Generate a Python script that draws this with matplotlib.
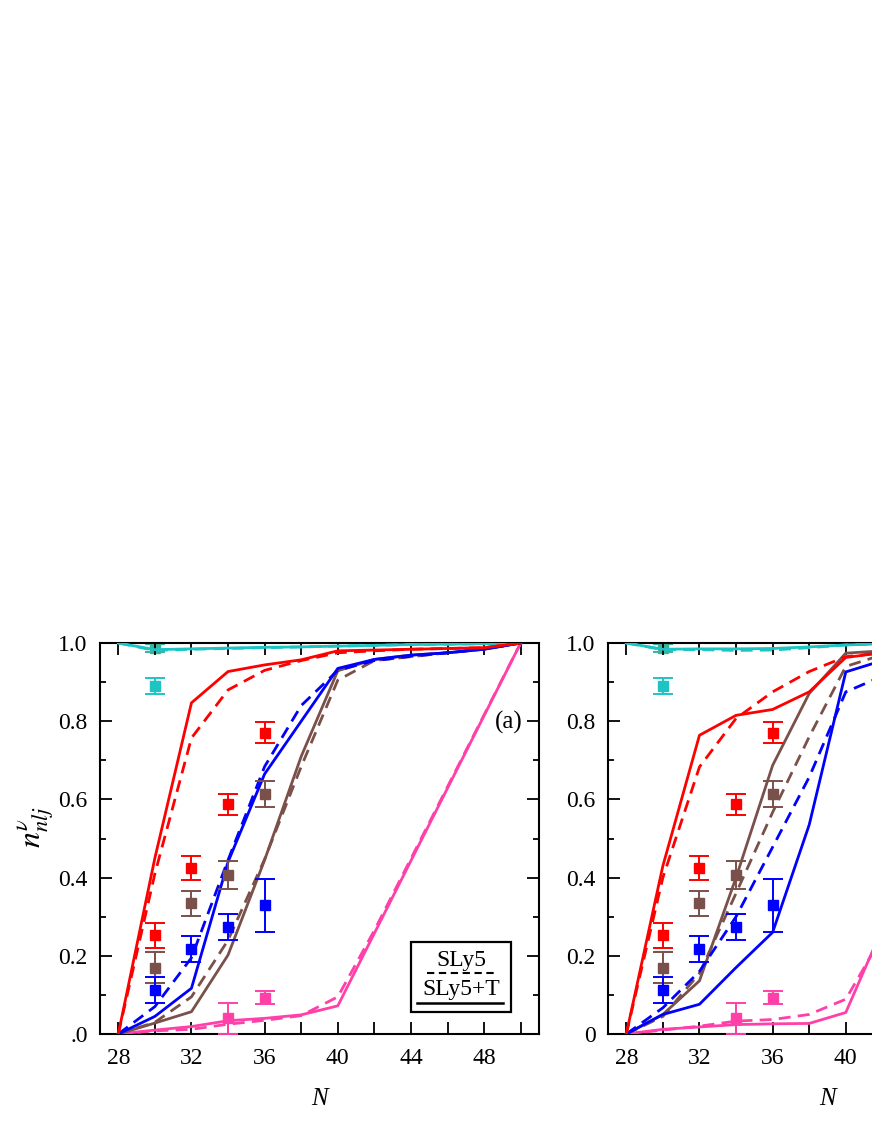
"""Neutron occupation probabilities n_nlj vs N: SLy5 (dashed) and SLy5+T (solid)."""

from __future__ import annotations

import matplotlib

matplotlib.use("Agg")
import matplotlib.pyplot as plt
from matplotlib.patches import Rectangle

# neutron numbers of the calculated curves
N_GRID = [28, 30, 32, 34, 36, 38, 40, 42, 44, 46, 48, 50]
N_PINK_A = [28, 30, 32, 34, 36, 38, 40, 50]
N_PINK_DASH_A = [28, 30, 32, 34, 36, 38, 40, 42, 50]
N_PINK_B = [28, 30, 32, 34, 36, 38, 40, 42, 50]

# panel (a)
cyan_solid_a = [1.0, 0.983, 0.985, 0.987, 0.989, 0.990, 0.992, 0.994, 0.996, 0.997, 0.998, 1.0]
cyan_dash_a = [1.0, 0.981, 0.984, 0.986, 0.988, 0.990, 0.992, 0.994, 0.996, 0.997, 0.998, 1.0]
red_solid_a = [0.0, 0.45, 0.847, 0.927, 0.944, 0.957, 0.98, 0.982, 0.984, 0.986, 0.988, 1.0]
red_dash_a = [0.0, 0.41, 0.757, 0.88, 0.93, 0.955, 0.975, 0.98, 0.984, 0.986, 0.988, 1.0]
blue_solid_a = [0.0, 0.045, 0.117, 0.44, 0.665, 0.80, 0.935, 0.958, 0.969, 0.975, 0.984, 1.0]
blue_dash_a = [0.0, 0.07, 0.195, 0.445, 0.684, 0.84, 0.93, 0.955, 0.966, 0.975, 0.985, 1.0]
brown_solid_a = [0.0, 0.028, 0.057, 0.202, 0.445, 0.71, 0.929, 0.958, 0.969, 0.975, 0.984, 1.0]
brown_dash_a = [0.0, 0.03, 0.095, 0.24, 0.447, 0.684, 0.905, 0.955, 0.965, 0.975, 0.985, 1.0]
pink_solid_a = [0.0, 0.01, 0.019, 0.034, 0.04, 0.049, 0.072, 1.0]
pink_dash_a = [0.0, 0.008, 0.012, 0.025, 0.035, 0.047, 0.095, 0.265, 1.0]

# panel (b)
cyan_solid_b = [1.0, 0.984, 0.985, 0.985, 0.986, 0.990, 0.995, 0.998, 1.0, 1.0, 1.0, 1.0]
cyan_dash_b = [1.0, 0.983, 0.983, 0.981, 0.982, 0.988, 0.995, 0.998, 1.0, 1.0, 1.0, 1.0]
red_solid_b = [0.0, 0.43, 0.764, 0.815, 0.83, 0.875, 0.963, 0.975, 0.98, 0.985, 0.99, 1.0]
red_dash_b = [0.0, 0.40, 0.683, 0.807, 0.875, 0.927, 0.965, 0.975, 0.98, 0.985, 0.99, 1.0]
blue_solid_b = [0.0, 0.05, 0.076, 0.17, 0.26, 0.535, 0.926, 0.955, 0.97, 0.98, 0.99, 1.0]
blue_dash_b = [0.0, 0.067, 0.16, 0.30, 0.478, 0.657, 0.875, 0.915, 0.94, 0.96, 0.98, 1.0]
brown_solid_b = [0.0, 0.05, 0.136, 0.40, 0.687, 0.871, 0.974, 0.98, 0.985, 0.99, 0.993, 1.0]
brown_dash_b = [0.0, 0.045, 0.155, 0.36, 0.567, 0.76, 0.94, 0.97, 0.98, 0.985, 0.99, 1.0]
pink_solid_b = [0.0, 0.012, 0.018, 0.024, 0.026, 0.027, 0.055, 0.27, 1.0]
pink_dash_b = [0.0, 0.01, 0.02, 0.033, 0.037, 0.05, 0.089, 0.25, 1.0]

# experimental values (same in both panels)
exp_cyan_n, exp_cyan, exp_cyan_err = [30], [0.89], [0.02]
exp_green_n, exp_green, exp_green_err = [30], [0.988], [0.01]
exp_red_n = [30, 32, 34, 36]
exp_red = [0.253, 0.425, 0.588, 0.771]
exp_red_err = [0.032, 0.03, 0.027, 0.027]
exp_brown_n = [30, 32, 34, 36]
exp_brown = [0.17, 0.334, 0.407, 0.614]
exp_brown_err = [0.04, 0.033, 0.035, 0.033]
exp_blue_n = [30, 32, 34, 36]
exp_blue = [0.112, 0.217, 0.274, 0.329]
exp_blue_err = [0.033, 0.034, 0.033, 0.068]
exp_pink_n = [34, 36]
exp_pink = [0.04, 0.093]
exp_pink_err = [0.04, 0.017]

X_TICKS = [28, 30, 32, 34, 36, 38, 40, 42, 44, 46, 48, 50]
X_TICK_LABELS_A = ["28", "", "32", "", "36", "", "40", "", "44", "", "48", ""]
X_TICKS_B = [28, 30, 32, 34, 36, 38, 40]
X_TICK_LABELS_B = ["28", "", "32", "", "36", "", "40"]
Y_TICKS = [0.0, 0.2, 0.4, 0.6, 0.8, 1.0]
Y_MINOR = [0.1, 0.3, 0.5, 0.7, 0.9]

CYAN = "#1ec4c4"
RED = "#ff0000"
BROWN = "#7a504a"
BLUE = "#0000ff"
PINK = "#ff40a8"
GREEN = "#3cb39a"

plt.rcParams["font.family"] = ["Liberation Serif", "DejaVu Serif"]
plt.rcParams["mathtext.fontset"] = "stix"

LW = 2.0
DASH = (4.3, 2.6)


def draw_panel(ax, curves, xticks, xlabels, ylabels) -> None:
    """Draw calculated curves, experimental points and axis styling."""
    for color, xs, solid, xd, dashed in curves:
        ax.plot(xs, solid, color=color, lw=LW, zorder=3)
        ax.plot(xd, dashed, color=color, lw=LW, dashes=DASH, zorder=3)

    exps = [
        (GREEN, exp_green_n, exp_green, exp_green_err),
        (CYAN, exp_cyan_n, exp_cyan, exp_cyan_err),
        (RED, exp_red_n, exp_red, exp_red_err),
        (BROWN, exp_brown_n, exp_brown, exp_brown_err),
        (BLUE, exp_blue_n, exp_blue, exp_blue_err),
        (PINK, exp_pink_n, exp_pink, exp_pink_err),
    ]
    for i, (color, xn, yv, err) in enumerate(exps):
        ax.errorbar(xn, yv, yerr=err, fmt="s", color=color, ms=6.5,
                    capsize=7.5, elinewidth=1.4, capthick=1.4,
                    zorder=1 if i == 0 else 4)

    ax.set_xlim(27, 51)
    ax.set_ylim(0, 1.0)
    ax.set_xticks(xticks, xlabels)
    ax.set_yticks(Y_TICKS, ylabels)
    ax.set_yticks(Y_MINOR, minor=True)
    ax.tick_params(which="both", direction="in", top=True, right=True,
                   width=1.3, labelsize=17)
    ax.tick_params(which="major", length=8.5)
    ax.tick_params(which="minor", length=4.5)
    ax.tick_params(axis="x", pad=10)
    ax.tick_params(axis="y", pad=9)
    for sp in ax.spines.values():
        sp.set_linewidth(1.5)
    ax.set_xlabel("N", fontstyle="italic", fontsize=18, labelpad=14)


def main() -> None:
    fig = plt.figure(figsize=(8.72, 11.28), dpi=100)
    rect_h = 391 / 1128
    bottom = 1 - 1034 / 1128
    ax_a = fig.add_axes([100 / 872, bottom, 439 / 872, rect_h])
    ax_b = fig.add_axes([608 / 872, bottom, 439 / 872, rect_h])

    curves_a = [
        (CYAN, N_GRID, cyan_solid_a, N_GRID, cyan_dash_a),
        (PINK, N_PINK_A, pink_solid_a, N_PINK_DASH_A, pink_dash_a),
        (BROWN, N_GRID, brown_solid_a, N_GRID, brown_dash_a),
        (BLUE, N_GRID, blue_solid_a, N_GRID, blue_dash_a),
        (RED, N_GRID, red_solid_a, N_GRID, red_dash_a),
    ]
    curves_b = [
        (CYAN, N_GRID, cyan_solid_b, N_GRID, cyan_dash_b),
        (PINK, N_PINK_B, pink_solid_b, N_PINK_B, pink_dash_b),
        (BROWN, N_GRID, brown_solid_b, N_GRID, brown_dash_b),
        (BLUE, N_GRID, blue_solid_b, N_GRID, blue_dash_b),
        (RED, N_GRID, red_solid_b, N_GRID, red_dash_b),
    ]
    draw_panel(ax_a, curves_a, X_TICKS, X_TICK_LABELS_A,
               [".0", "0.2", "0.4", "0.6", "0.8", "1.0"])
    draw_panel(ax_b, curves_b, X_TICKS_B, X_TICK_LABELS_B,
               ["0", "0.2", "0.4", "0.6", "0.8", "1.0"])

    ax_a.set_ylabel(r"$n^{\nu}_{nlj}$", fontsize=23)
    ax_a.yaxis.set_label_coords(-0.10, 0.53)
    ax_a.text(0.962, 0.798, "(a)", transform=ax_a.transAxes, fontsize=18,
              ha="right", va="center")

    # hand-made legend box: label above each line sample
    ax_a.add_patch(Rectangle((0.708, 0.057), 0.2275, 0.179,
                             transform=ax_a.transAxes, facecolor="white",
                             edgecolor="black", lw=1.6, zorder=5))
    ax_a.text(0.823, 0.188, "SLy5", transform=ax_a.transAxes, fontsize=17,
              ha="center", va="center", zorder=6)
    ax_a.plot([0.745, 0.897], [0.156, 0.156], transform=ax_a.transAxes,
              color="black", lw=1.5, dashes=(3.5, 2.2), zorder=6)
    ax_a.text(0.823, 0.113, "SLy5+T", transform=ax_a.transAxes, fontsize=17,
              ha="center", va="center", zorder=6)
    ax_a.plot([0.721, 0.917], [0.079, 0.079], transform=ax_a.transAxes,
              color="black", lw=1.8, zorder=6)

    fig.savefig("out.png", dpi=100)


if __name__ == "__main__":
    main()
